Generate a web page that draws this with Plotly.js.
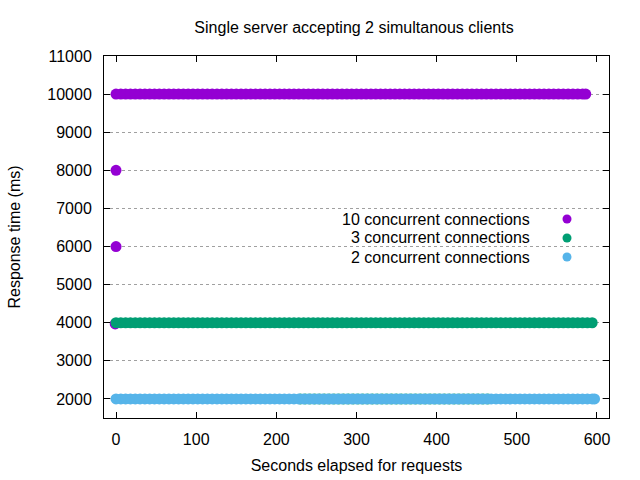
<!DOCTYPE html>
<html>
<head>
<meta charset="utf-8">
<script src="https://cdn.plot.ly/plotly-3.0.1.min.js"></script>
<style>html,body{margin:0;padding:0;background:#fff;}#chart{width:640px;height:480px;}</style>
</head>
<body>
<div id="chart"></div>
<script>
// Series: 10 concurrent connections
var c10x = [
  0,6,12,18,24,30,36,42,48,54,
  60,66,72,78,84,90,96,102,108,114,
  120,126,132,138,144,150,156,162,168,174,
  180,186,192,198,204,210,216,222,228,234,
  240,246,252,258,264,270,276,282,288,294,
  300,306,312,318,324,330,336,342,348,354,
  360,366,372,378,384,390,396,402,408,414,
  420,426,432,438,444,450,456,462,468,474,
  480,486,492,498,504,510,516,522,528,534,
  540,546,552,558,564,570,576,582,586,
  0,0,-1
];
var c10y = [
  10000,10000,10000,10000,10000,10000,10000,10000,10000,10000,
  10000,10000,10000,10000,10000,10000,10000,10000,10000,10000,
  10000,10000,10000,10000,10000,10000,10000,10000,10000,10000,
  10000,10000,10000,10000,10000,10000,10000,10000,10000,10000,
  10000,10000,10000,10000,10000,10000,10000,10000,10000,10000,
  10000,10000,10000,10000,10000,10000,10000,10000,10000,10000,
  10000,10000,10000,10000,10000,10000,10000,10000,10000,10000,
  10000,10000,10000,10000,10000,10000,10000,10000,10000,10000,
  10000,10000,10000,10000,10000,10000,10000,10000,10000,10000,
  10000,10000,10000,10000,10000,10000,10000,10000,10000,
  8000,6000,3970
];
// Series: 3 concurrent connections
var c3x = [
  0,6,12,18,24,30,36,42,48,54,
  60,66,72,78,84,90,96,102,108,114,
  120,126,132,138,144,150,156,162,168,174,
  180,186,192,198,204,210,216,222,228,234,
  240,246,252,258,264,270,276,282,288,294,
  300,306,312,318,324,330,336,342,348,354,
  360,366,372,378,384,390,396,402,408,414,
  420,426,432,438,444,450,456,462,468,474,
  480,486,492,498,504,510,516,522,528,534,
  540,546,552,558,564,570,576,582,588,594,
  230,236,242,248,254,260,266,272,278,284,
  290,296,302,308,314,320,326,332,338,344,
  350,356,362,368,374,380,386,392,398,404,
  410,416,422,428,434,440,446,452,458,464
];
var c3y = [
  4000,4000,4000,4000,4000,4000,4000,4000,4000,4000,
  4000,4000,4000,4000,4000,4000,4000,4000,4000,4000,
  4000,4000,4000,4000,4000,4000,4000,4000,4000,4000,
  4000,4000,4000,4000,4000,4000,4000,4000,4000,4000,
  4000,4000,4000,4000,4000,4000,4000,4000,4000,4000,
  4000,4000,4000,4000,4000,4000,4000,4000,4000,4000,
  4000,4000,4000,4000,4000,4000,4000,4000,4000,4000,
  4000,4000,4000,4000,4000,4000,4000,4000,4000,4000,
  4000,4000,4000,4000,4000,4000,4000,4000,4000,4000,
  4000,4000,4000,4000,4000,4000,4000,4000,4000,4000,
  2000,2000,2000,2000,2000,2000,2000,2000,2000,2000,
  2000,2000,2000,2000,2000,2000,2000,2000,2000,2000,
  2000,2000,2000,2000,2000,2000,2000,2000,2000,2000,
  2000,2000,2000,2000,2000,2000,2000,2000,2000,2000
];
// Series: 2 concurrent connections
var c2x = [
  0,6,12,18,24,30,36,42,48,54,
  60,66,72,78,84,90,96,102,108,114,
  120,126,132,138,144,150,156,162,168,174,
  180,186,192,198,204,210,216,222,228,234,
  240,246,252,258,264,270,276,282,288,294,
  300,306,312,318,324,330,336,342,348,354,
  360,366,372,378,384,390,396,402,408,414,
  420,426,432,438,444,450,456,462,468,474,
  480,486,492,498,504,510,516,522,528,534,
  540,546,552,558,564,570,576,582,588,594,
  597
];
var c2y = [
  2000,2000,2000,2000,2000,2000,2000,2000,2000,2000,
  2000,2000,2000,2000,2000,2000,2000,2000,2000,2000,
  2000,2000,2000,2000,2000,2000,2000,2000,2000,2000,
  2000,2000,2000,2000,2000,2000,2000,2000,2000,2000,
  2000,2000,2000,2000,2000,2000,2000,2000,2000,2000,
  2000,2000,2000,2000,2000,2000,2000,2000,2000,2000,
  2000,2000,2000,2000,2000,2000,2000,2000,2000,2000,
  2000,2000,2000,2000,2000,2000,2000,2000,2000,2000,
  2000,2000,2000,2000,2000,2000,2000,2000,2000,2000,
  2000,2000,2000,2000,2000,2000,2000,2000,2000,2000,
  2000
];
var seriesNames = ["10 concurrent connections", "3 concurrent connections", "2 concurrent connections"];
var seriesColors = ["#9400d3", "#009e73", "#56b4e9"];
var yTicks = [2000,3000,4000,5000,6000,7000,8000,9000,10000,11000];
var xTicks = [0,100,200,300,400,500,600];

var FONT = "Liberation Sans, Arial, sans-serif";
var FS = 16;
var L = 104, R = 609, T = 56, B = 418;
var W = 640, H = 480;
function px(x){ return (x - L) / (R - L); }
function py(y){ return (B - y) / (B - T); }

var xs = [c10x, c3x, c2x], ys = [c10y, c3y, c2y];
var traces = seriesNames.map(function(n, i){
  return {
    type: "scatter", mode: "markers", name: n,
    x: xs[i], y: ys[i],
    marker: {color: seriesColors[i], size: 11, line: {width: 0}},
    showlegend: false, hoverinfo: "skip"
  };
});

var legendRows = [219, 238, 257];
var shapes = [{
  type: "rect", xref: "paper", yref: "paper", layer: "between",
  x0: px(285), x1: px(598), y0: py(212), y1: py(268),
  fillcolor: "#ffffff", line: {width: 0}
}];
var annotations = [];
seriesNames.forEach(function(n, i){
  annotations.push({
    xref: "paper", yref: "paper", x: px(532), y: py(legendRows[i]),
    xanchor: "right", yanchor: "middle", showarrow: false,
    text: n, font: {family: FONT, size: FS, color: "#000"}
  });
  shapes.push({
    type: "circle", xref: "paper", yref: "paper",
    xsizemode: "pixel", ysizemode: "pixel",
    xanchor: px(567), yanchor: py(legendRows[i]),
    x0: -4.5, x1: 4.5, y0: -4.5, y1: 4.5,
    fillcolor: seriesColors[i], line: {width: 0}, layer: "above"
  });
});

var layout = {
  width: W, height: H,
  margin: {l: L, r: W - R, t: T, b: H - B, pad: 0},
  paper_bgcolor: "#fff", plot_bgcolor: "#fff",
  font: {family: FONT, size: FS, color: "#000"},
  title: {text: "Single server accepting 2 simultanous clients", x: 354 / W, xanchor: "center", y: 1 - 27/H, yanchor: "middle", font: {family: FONT, size: FS, color: "#000"}},
  xaxis: {
    range: [-15, 615], tickvals: xTicks, ticktext: xTicks.map(String),
    ticks: "inside", ticklen: 6, tickcolor: "#000", mirror: "allticks",
    showline: true, linecolor: "#000", linewidth: 1,
    showgrid: false, zeroline: false, ticklabelstandoff: 7,
    tickfont: {family: FONT, size: FS, color: "#000"},
    title: {text: "Seconds elapsed for requests", standoff: 12, font: {family: FONT, size: FS, color: "#000"}}
  },
  yaxis: {
    range: [1500, 11000], tickvals: yTicks, ticktext: yTicks.map(String),
    ticks: "inside", ticklen: 6, tickcolor: "#000", mirror: "allticks",
    showline: true, linecolor: "#000", linewidth: 1,
    showgrid: true, gridcolor: "#a0a0a0", gridwidth: 1, griddash: "dot",
    zeroline: false, ticklabelstandoff: 8,
    tickfont: {family: FONT, size: FS, color: "#000"},
    title: {text: "Response time (ms)", standoff: 22, font: {family: FONT, size: FS, color: "#000"}}
  },
  shapes: shapes,
  annotations: annotations
};

Plotly.newPlot("chart", traces, layout, {displayModeBar: false, staticPlot: true});
</script>
</body>
</html>
